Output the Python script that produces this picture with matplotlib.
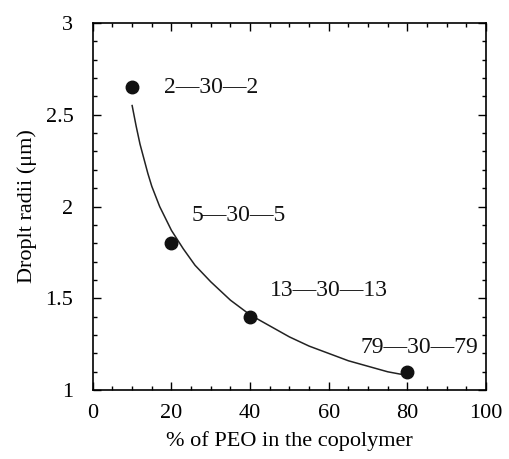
import matplotlib
matplotlib.use('Agg')
import matplotlib.pyplot as plt
from matplotlib.ticker import MultipleLocator

# measured points
peo = [10, 20, 40, 80]
radii = [2.65, 1.80, 1.40, 1.10]
names = ['2\u201430\u20142', '5\u201430\u20145', '13\u201430\u201413', '79\u201430\u201479']
label_x = [18, 25, 45, 68]
label_y = [2.65, 1.95, 1.545, 1.23]

# fitted curve
curve_x = [10, 11, 12, 13, 14, 15, 17, 20, 23, 26, 30, 35, 40, 45, 50, 55, 60, 65, 70, 75, 80]
curve_y = [2.55, 2.44, 2.34, 2.26, 2.18, 2.11, 2.0, 1.87, 1.77, 1.68, 1.59, 1.49, 1.41, 1.35, 1.29, 1.24, 1.20, 1.16, 1.13, 1.10, 1.08]

plt.rcParams['font.family'] = ['Liberation Serif', 'DejaVu Serif']

fig = plt.figure(figsize=(5.1, 4.59), dpi=100)
ax = fig.add_axes([0.182, 0.150, 0.771, 0.800])

ax.plot(curve_x, curve_y, color='#222222', lw=1.1)
ax.plot(peo, radii, 'o', color='#111111', ms=9)

for n, x, y in zip(names, label_x, label_y):
    ax.text(x, y, n, fontsize=17, ha='left', va='center', color='#111111')

ax.set_xlim(0, 100)
ax.set_ylim(1, 3)
ax.xaxis.set_major_locator(MultipleLocator(20))
ax.xaxis.set_minor_locator(MultipleLocator(5))
ax.yaxis.set_minor_locator(MultipleLocator(0.1))
ax.set_yticks([1, 1.5, 2, 2.5, 3])
ax.set_yticklabels(['1', '1.5', '2', '2.5', '3'])
ax.tick_params(which='both', direction='in', top=True, right=True, labelsize=16)
ax.tick_params(axis='x', pad=10)
ax.tick_params(axis='y', pad=14)
ax.tick_params(which='major', length=6, width=1)
ax.tick_params(which='minor', length=3, width=1)
for s in ax.spines.values():
    s.set_linewidth(1.2)

ax.set_xlabel('% of PEO in the copolymer', fontsize=16, labelpad=6)
ax.set_ylabel('Droplt radii (\u03bcm)', fontsize=16, labelpad=6)

fig.savefig('out.png', dpi=100)
